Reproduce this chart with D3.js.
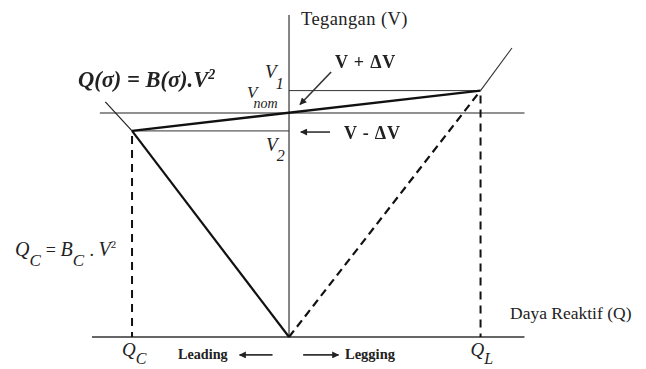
<!DOCTYPE html>
<html>
<head>
<meta charset="utf-8">
<script src="https://cdn.jsdelivr.net/npm/d3@7"></script>
<style>
  html, body { margin: 0; padding: 0; background: #fff; }
  svg { display: block; }
</style>
</head>
<body>
<svg id="chart" width="646" height="369"></svg>
<script>
// SVC voltage / reactive-power characteristic (per-unit values)
const levelNames  = ["V1", "Vnom", "V2"];
const levelValues = [1.10, 1.00, 0.92];      // V1, Vnom, V2
const qNames      = ["C", "L"];
const qValues     = [-1.00, 1.22];           // Q_C (capacitive limit), Q_L (inductive limit)
const controlLine   = [[-1.00, 0.92], [1.22, 1.10]];   // regulation slope V2 -> V1
const capacitorLine = [[0, 0], [-1.00, 0.92]];        // Q_C = B_C . V^2
const reactorLine   = [[0, 0], [1.22, 1.10]];         // inductive limit
const leftExtension  = [[-1.00, 0.92], [-1.17, 1.05]];
const rightExtension = [[1.22, 1.10], [1.42, 1.29]];
const qAxisRange = [-1.255, 1.50];
const vAxisRange = [0, 1.4375];
const nomLineRange = [-1.205, 1.50];

const SERIF = "'Liberation Serif', 'Times New Roman', Times, 'DejaVu Serif', serif";

const svg = d3.select("#chart");
const x = d3.scaleLinear().domain(qAxisRange).range([92, 524.5]);
const y = d3.scaleLinear().domain(vAxisRange).range([337, 15]);
const line = d3.line().x(d => x(d[0])).y(d => y(d[1]));

const defs = svg.append("defs");
defs.append("marker")
  .attr("id", "head").attr("viewBox", "0 0 10 10")
  .attr("refX", 9).attr("refY", 5)
  .attr("markerWidth", 9).attr("markerHeight", 7)
  .attr("markerUnits", "userSpaceOnUse")
  .attr("orient", "auto")
  .append("path").attr("d", "M0,0 L10,5 L0,10 Z").attr("fill", "#222");
defs.append("filter").attr("id", "soft")
  .append("feGaussianBlur").attr("stdDeviation", 0.5);

// axes
svg.append("line")
  .attr("x1", x(qAxisRange[0])).attr("x2", x(qAxisRange[1]))
  .attr("y1", y(0)).attr("y2", y(0))
  .attr("stroke", "#333").attr("stroke-width", 1.3);
svg.append("line")
  .attr("x1", x(0)).attr("x2", x(0))
  .attr("y1", y(vAxisRange[0])).attr("y2", y(vAxisRange[1]))
  .attr("stroke", "#333").attr("stroke-width", 1.2);

// voltage reference levels
const vIdx = n => levelValues[levelNames.indexOf(n)];
svg.append("line")
  .attr("x1", x(nomLineRange[0])).attr("x2", x(nomLineRange[1]))
  .attr("y1", y(vIdx("Vnom"))).attr("y2", y(vIdx("Vnom")))
  .attr("stroke", "#222").attr("stroke-width", 1.2);
svg.append("line")
  .attr("x1", x(0)).attr("x2", x(qValues[1]))
  .attr("y1", y(vIdx("V1"))).attr("y2", y(vIdx("V1")))
  .attr("stroke", "#333").attr("stroke-width", 1);
svg.append("line")
  .attr("x1", x(qValues[0])).attr("x2", x(0))
  .attr("y1", y(vIdx("V2"))).attr("y2", y(vIdx("V2")))
  .attr("stroke", "#333").attr("stroke-width", 1);

// dashed limit drops
svg.append("line")
  .attr("x1", x(qValues[0])).attr("x2", x(qValues[0]))
  .attr("y1", y(controlLine[0][1]) + 5).attr("y2", y(0))
  .attr("stroke", "#111").attr("stroke-width", 2)
  .attr("stroke-dasharray", "8 6");
svg.append("line")
  .attr("x1", x(qValues[1])).attr("x2", x(qValues[1]))
  .attr("y1", y(controlLine[1][1]) + 5).attr("y2", y(0))
  .attr("stroke", "#111").attr("stroke-width", 2)
  .attr("stroke-dasharray", "8 6");

// characteristic lines
svg.append("path").attr("d", line(capacitorLine))
  .attr("fill", "none").attr("stroke", "#111").attr("stroke-width", 2.2);
svg.append("path").attr("d", line(reactorLine))
  .attr("fill", "none").attr("stroke", "#111").attr("stroke-width", 2.2)
  .attr("stroke-dasharray", "8 5");
svg.append("path").attr("d", line(controlLine))
  .attr("fill", "none").attr("stroke", "#111").attr("stroke-width", 2.4);
svg.append("path").attr("d", line(leftExtension))
  .attr("fill", "none").attr("stroke", "#222").attr("stroke-width", 1.2);
svg.append("path").attr("d", line(rightExtension))
  .attr("fill", "none").attr("stroke", "#333").attr("stroke-width", 1.1);

// annotation arrows
const arrows = [
  [[0.268, 1.183], [0.070, 1.038]],
  [[0.261, 0.915], [0.075, 0.915]],
  [[-0.105, -0.080], [-0.315, -0.080]],
  [[0.090, -0.080], [0.315, -0.080]]
];
arrows.forEach(a => {
  svg.append("line")
    .attr("x1", x(a[0][0])).attr("y1", y(a[0][1]))
    .attr("x2", x(a[1][0])).attr("y2", y(a[1][1]))
    .attr("stroke", "#333").attr("stroke-width", 1.6)
    .attr("marker-end", "url(#head)");
});

// text helpers
function subLabel(px, py, main, sub, opts) {
  const o = Object.assign({ size: 18, subSize: 16, dx: 1, dy: 11 }, opts || {});
  const t = svg.append("text").attr("font-family", SERIF)
    .attr("x", px).attr("y", py)
    .attr("font-style", "italic").attr("font-size", o.size)
    .attr("fill", "#222");
  t.append("tspan").text(main);
  t.append("tspan").attr("dx", o.dx).attr("dy", o.dy)
    .attr("font-size", o.subSize).text(sub);
  return t;
}

// axis titles
svg.append("text").attr("font-family", SERIF)
  .attr("x", x(0) + 12).attr("y", 25)
  .attr("font-size", 18.5).attr("letter-spacing", 0.4).attr("fill", "#222")
  .text("Tegangan (V)");
svg.append("text").attr("font-family", SERIF)
  .attr("x", 510).attr("y", 319)
  .attr("font-size", 17.5).attr("fill", "#222")
  .text("Daya Reaktif (Q)");

// voltage level labels
subLabel(x(0) - 24, y(vIdx("V1")) - 13, "V", "1", { size: 19, subSize: 16, dx: -1, dy: 11 });
subLabel(x(0) - 42, y(vIdx("Vnom")) - 15, "V", "nom", { size: 17, subSize: 14, dx: -4, dy: 10 });
subLabel(x(0) - 23, y(vIdx("V2")) + 20, "V", "2", { size: 19, subSize: 16, dx: -1, dy: 10 });

// reactive power limits
qNames.forEach((n, i) => {
  subLabel(x(qValues[i]) - 10, 356, "Q", n, { size: 19, subSize: 16, dx: 0, dy: 8 });
});

// bold annotations
svg.append("text").attr("font-family", SERIF)
  .attr("x", 335).attr("y", 68)
  .attr("font-size", 18).attr("font-weight", "bold").attr("fill", "#222")
  .attr("letter-spacing", 0.8).attr("filter", "url(#soft)")
  .text("V + \u0394V");
svg.append("text").attr("font-family", SERIF)
  .attr("x", 344).attr("y", 139)
  .attr("font-size", 18).attr("font-weight", "bold").attr("fill", "#222")
  .attr("letter-spacing", 0.8).attr("filter", "url(#soft)")
  .text("V - \u0394V");
svg.append("text").attr("font-family", SERIF)
  .attr("x", 178).attr("y", 359)
  .attr("font-size", 14.2).attr("font-weight", "bold").attr("fill", "#222")
  .text("Leading");
svg.append("text").attr("font-family", SERIF)
  .attr("x", 345).attr("y", 359)
  .attr("font-size", 14.5).attr("font-weight", "bold").attr("fill", "#222")
  .text("Legging");

// characteristic equation
const eq = svg.append("text").attr("font-family", SERIF)
  .attr("x", 78).attr("y", 87)
  .attr("font-size", 22.5).attr("font-weight", "bold").attr("font-style", "italic")
  .attr("fill", "#222").attr("filter", "url(#soft)");
eq.append("tspan").text("Q(\u03C3) = B(\u03C3).V");
eq.append("tspan").attr("font-size", 14).attr("dy", -8).text("2");

// capacitor formula
const cf = svg.append("text").attr("font-family", SERIF)
  .attr("x", 15).attr("y", 256)
  .attr("font-size", 20).attr("font-style", "italic").attr("fill", "#222");
cf.append("tspan").text("Q");
cf.append("tspan").attr("dy", 10).attr("font-size", 17).text("C");
cf.append("tspan").attr("dy", -10).attr("dx", 5).attr("font-style", "normal").attr("font-size", 18).text("= ");
cf.append("tspan").text("B");
cf.append("tspan").attr("dy", 10).attr("font-size", 17).text("C");
cf.append("tspan").attr("dy", -10).attr("dx", 1).attr("font-style", "normal").attr("font-size", 18).text(" . ");
cf.append("tspan").text("V");
cf.append("tspan").attr("dy", -8).attr("font-size", 11).attr("font-style", "normal").text("2");
</script>
</body>
</html>
